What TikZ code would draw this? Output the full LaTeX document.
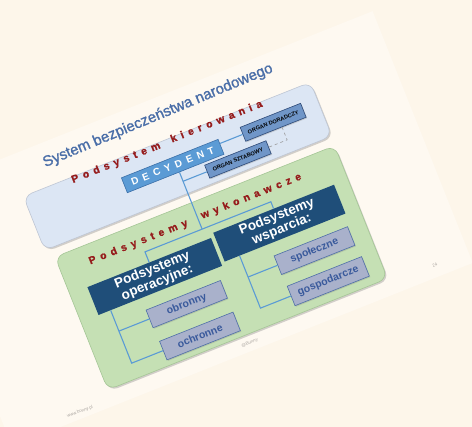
\documentclass[tikz,border=0pt]{standalone}
\usepackage{fontspec}
\setmainfont{Liberation Sans}
\newfontfamily\lsfont[LetterSpace=48]{Liberation Sans}
\newfontfamily\lsfontb[LetterSpace=46,FakeBold=1.2]{Liberation Sans Bold}
\newfontfamily\titlefont[FakeBold=1.4]{Liberation Sans}
\usetikzlibrary{shadows}
\definecolor{bgc}{RGB}{253,246,234}
\definecolor{pagec}{RGB}{254,249,241}
\definecolor{redc}{RGB}{192,0,0}
\definecolor{titlec}{RGB}{74,110,168}
\definecolor{kierc}{RGB}{150,28,28}
\definecolor{bluereg}{RGB}{220,230,244}
\definecolor{bluebord}{RGB}{190,198,212}
\definecolor{greenreg}{RGB}{197,224,180}
\definecolor{greenbord}{RGB}{165,198,150}
\definecolor{navy}{RGB}{31,78,121}
\definecolor{decc}{RGB}{91,155,213}
\definecolor{decb}{RGB}{59,111,168}
\definecolor{orgc}{RGB}{112,150,200}
\definecolor{orgb}{RGB}{46,74,120}
\definecolor{greyc}{RGB}{169,177,203}
\definecolor{greyb}{RGB}{79,111,168}
\definecolor{greyt}{RGB}{58,90,156}
\definecolor{linec}{RGB}{91,155,213}
\definecolor{footc}{RGB}{175,170,165}
\tikzset{
  region/.style={rounded corners=9pt, inner sep=0pt},
  spaced/.style={anchor=base west, inner sep=0pt, text=kierc,
    font=\lsfontb\fontsize{10.5}{12}\selectfont},
  decbox/.style={draw=decb, line width=0.6pt, fill=decc, text=white, inner sep=0pt,
    font=\lsfont\bfseries\fontsize{10}{12}\selectfont},
  orgbox/.style={draw=orgb, line width=0.6pt, fill=orgc, text=black, inner sep=0pt,
    font=\bfseries\fontsize{5.6}{6}\selectfont,
    drop shadow={shadow xshift=1pt, shadow yshift=-1pt, opacity=0.3}},
  navybox/.style={fill=navy, text=white, inner sep=0pt, align=center,
    font=\bfseries\fontsize{13.5}{13.5}\selectfont},
  greybox/.style={draw=greyb, line width=0.6pt, fill=greyc, text=greyt, inner sep=0pt,
    font=\bfseries\fontsize{10.5}{12}\selectfont,
    drop shadow={shadow xshift=1pt, shadow yshift=-1pt, opacity=0.3}},
  conn/.style={draw=linec, line width=1.1pt},
  dconn/.style={draw=gray!80, line width=0.6pt, dashed},
  foot/.style={text=footc, inner sep=0pt, font=\fontsize{4.5}{5}\selectfont}
}
\begin{document}
\begin{tikzpicture}[x=1pt,y=1pt]
\useasboundingbox (0,0) rectangle (472,-427);
\fill[bgc] (0,0) rectangle (472,-427);
\fill[redc] (29,0) -- (62.5,0) -- (61.5,8) .. controls (60,15) and (56,17.5) .. (48,17.5) -- (25,16.5) -- cycle;
\begin{scope}[shift={(55,-257)}, rotate=21.7, transform shape]
  \fill[pagec] (-110,111) rectangle (386,-160);
  % regions
  \node[region, draw=bluebord, line width=0.6pt, fill=bluereg, minimum width=309pt, minimum height=58pt,
        drop shadow={shadow xshift=1.5pt, shadow yshift=-1.5pt, opacity=0.35}] (kier) at (147.5,39) {};
  \node[region, draw=greenbord, line width=0.6pt, fill=greenreg, minimum width=301pt, minimum height=143pt,
        drop shadow={shadow xshift=1.5pt, shadow yshift=-1.5pt, opacity=0.35}] (wyk) at (150.5,-71.5) {};
  % title
  \node[anchor=base west, inner sep=0pt, text=titlec, font=\titlefont\fontsize{15}{18}\selectfont, rotate=1] (title) at (24,87)
    {System bezpieczeństwa narodowego};
  \node[spaced] (pk1) at (44,62) {Podsystem};
  \node[spaced] (pk2) at (151,63) {kierowania};
  \node[spaced] (pw1) at (30,-20) {Podsystemy};
  \node[spaced] (pw2) at (151,-19) {wykonawcze};
  % boxes
  \node[decbox, minimum width=104pt, minimum height=16pt] (dec) at (143,41) {DECYDENT};
  \node[orgbox, minimum width=65pt, minimum height=15pt] (org1) at (252.5,44.5) {ORGAN DORADCZY};
  \node[orgbox, minimum width=66pt, minimum height=14pt] (org2) at (206,23) {ORGAN SZTABOWY};
  \node[navybox, minimum width=133pt, minimum height=30pt] (op) at (85.5,-55) {Podsystemy\\operacyjne:};
  \node[navybox, minimum width=130pt, minimum height=31pt] (ws) at (221,-51.5) {Podsystemy\\wsparcia:};
  \node[greybox, minimum width=80pt, minimum height=19pt] (obr) at (105,-92.5) {obronny};
  \node[greybox, minimum width=79pt, minimum height=20pt] (och) at (105.5,-127) {ochronne};
  \node[greybox, minimum width=79pt, minimum height=20pt] (spo) at (243.5,-90) {społeczne};
  \node[greybox, minimum width=80pt, minimum height=21pt] (gos) at (245,-123.5) {gospodarcze};
  % connector helpers
  \coordinate (bus) at (147,-28.5);
  \coordinate (dx) at (259,0);
  \coordinate (lv) at (32,0);
  \coordinate (rv) at (172,0);
  % connectors
  \draw[conn] (dec.east |- org1.west) -- (org1.west);
  \draw[conn] (dec.south -| bus) -- (bus);
  \draw[conn] (org2.west -| bus) -- (org2.west);
  \draw[conn] (op.north) -- (op.north |- bus) -- (ws.north |- bus) -- (ws.north);
  \draw[dconn] (org1.south -| dx) -- (org2.east -| dx) -- (org2.east);
  \draw[conn] (op.south -| lv) -- (och.west -| lv) -- (och.west);
  \draw[conn] (obr.west -| lv) -- (obr.west);
  \draw[conn] (ws.south -| rv) -- (gos.west -| rv) -- (gos.west);
  \draw[conn] (spo.west -| rv) -- (spo.west);
  % footer
  \node[foot] (pg) at (350,-148) {24};
  \node[foot] (au) at (149,-152) {@Bunny};
  \node[foot] (www) at (-34,-153) {www.bunny.pl};
\end{scope}
\end{tikzpicture}
\end{document}
